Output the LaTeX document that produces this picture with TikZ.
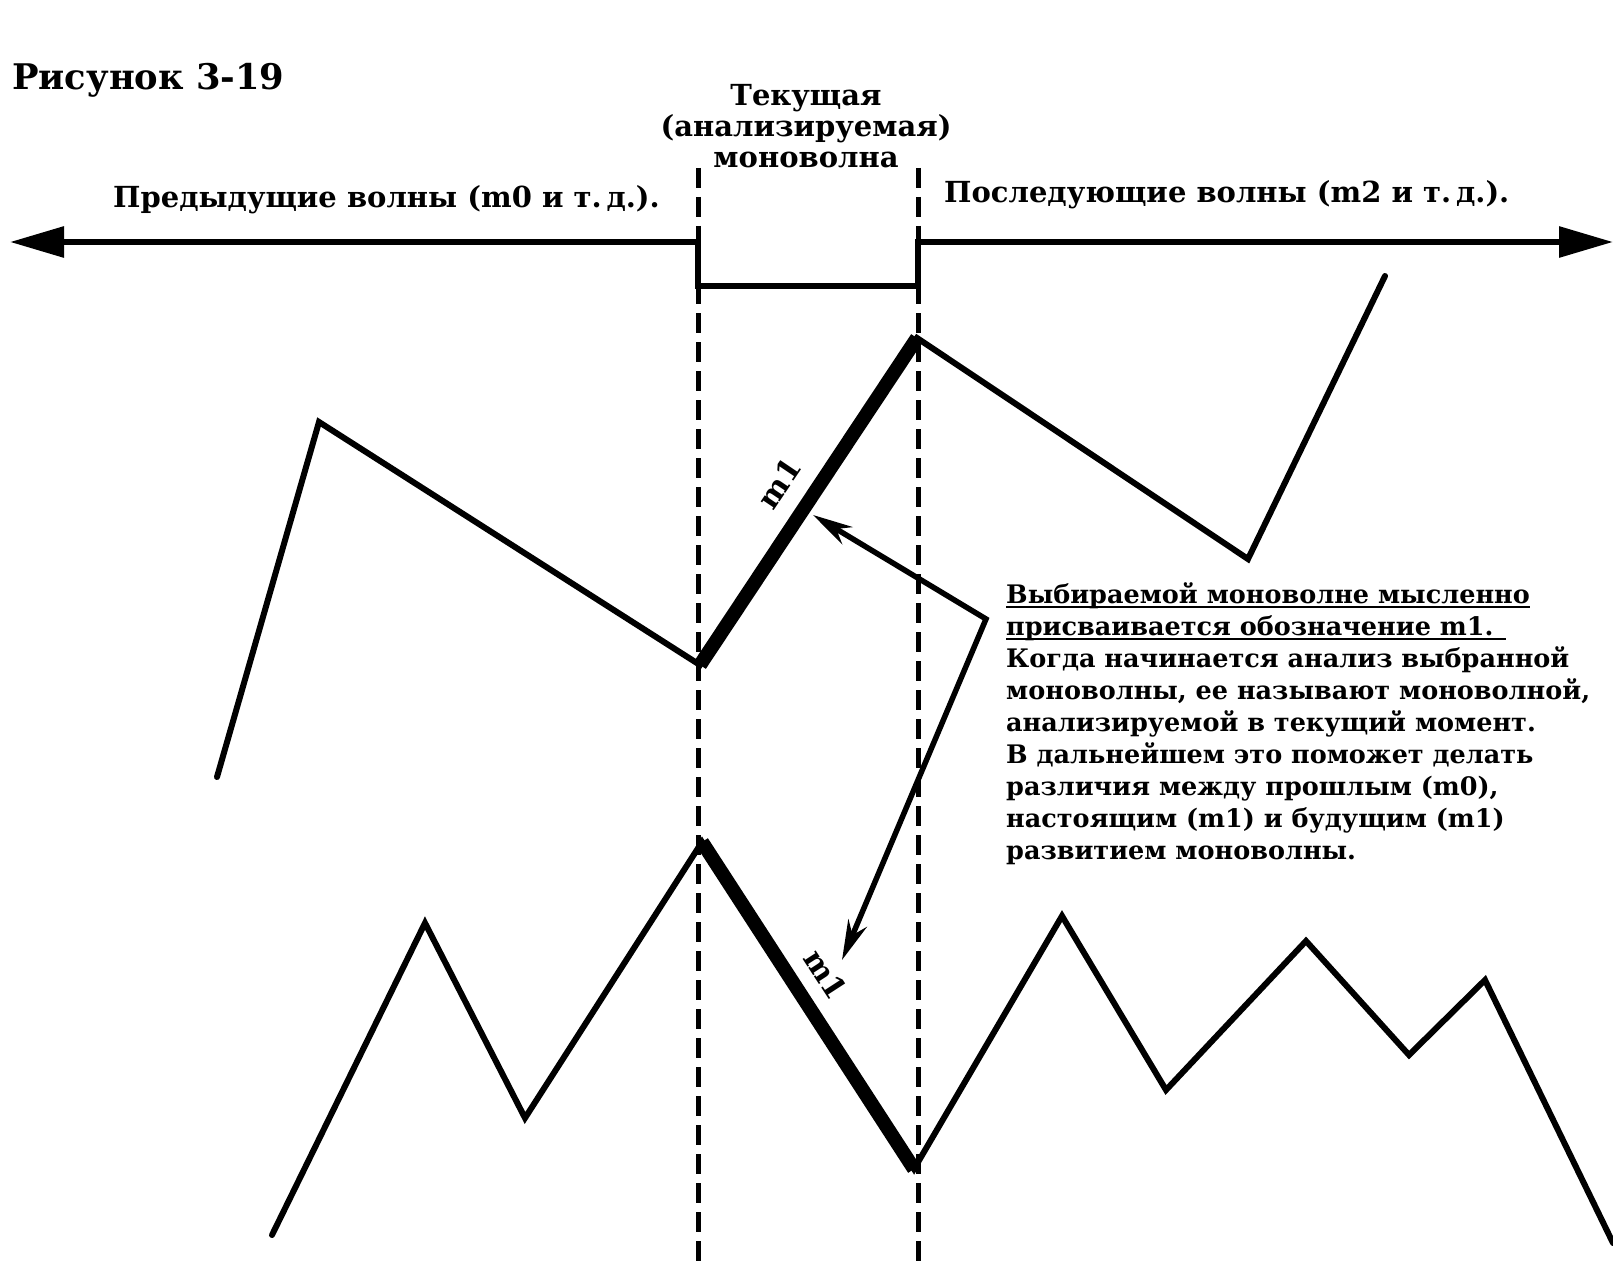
\documentclass[tikz,border=0pt]{standalone}
\usepackage{fontspec}
\setmainfont{DejaVu Serif}
\usetikzlibrary{arrows.meta}
\begin{document}
\begin{tikzpicture}[x=1pt,y=-1pt,
  wave/.style={line width=6pt, line join=miter, line cap=round},
  mono/.style={line width=14pt, line cap=butt},
  guide/.style={line width=5pt, dash pattern=on 20pt off 9pt},
  axis/.style={line width=6pt, line join=miter},
  callout/.style={line width=5.5pt, line join=miter,
    {Stealth[length=40pt,width=20pt]}-{Stealth[length=40pt,width=20pt]}},
  head/.style={font=\fontsize{29}{31}\selectfont\bfseries, inner sep=0pt, align=center},
  body/.style={font=\fontsize{25.5}{32}\selectfont\bfseries, inner sep=0pt, anchor=base west},
  lbl/.style={font=\fontsize{30}{30}\selectfont\bfseries, inner sep=0pt}]
\useasboundingbox (0,0) rectangle (1613,1265);

% guide lines
\coordinate (gLt) at (698,168); \coordinate (gLb) at (698,1265);
\coordinate (gRt) at (918,168); \coordinate (gRb) at (918,1265);
\draw[guide] (gLt) -- (gLb);
\draw[guide] (gRt) -- (gRb);

% axis with bracket
\coordinate (aL) at (10,242);
\coordinate (aR) at (1613,242);
\coordinate (b1) at (698,242); \coordinate (b2) at (698,286);
\coordinate (b3) at (918,286); \coordinate (b4) at (918,242);
\draw[axis, {Triangle[length=54pt,width=30pt]}-{Triangle[length=54pt,width=30pt]}]
  (aL) -- (b1) -- (b2) -- (b3) -- (b4) -- (aR);

% texts
\node[anchor=base west, font=\fontsize{35.3}{36}\selectfont\bfseries, inner sep=0pt] (title) at (12,90) {Рисунок 3-19};
\node[head, anchor=base west] (prev) at (113,208) {Предыдущие волны (m0 и т.\,д.).};
\node[head, anchor=base west] (next) at (944,203) {Последующие волны (m2 и т.\,д.).};
\node[head, anchor=base] (cur1) at (806,106) {Текущая};
\node[head, anchor=base] (cur2) at (806,137) {(анализируемая)};
\node[head, anchor=base] (cur3) at (806,168) {моноволна};

\node[body] (t1) at (1006,603) {Выбираемой моноволне мысленно};
\node[body] (t2) at (1006,635) {присваивается обозначение m1.};
\node[body] (t3) at (1006,667) {Когда начинается анализ выбранной};
\node[body] (t4) at (1006,699) {моноволны, ее называют моноволной,};
\node[body] (t5) at (1006,731) {анализируемой в текущий момент.};
\node[body] (t6) at (1006,763) {В дальнейшем это поможет делать};
\node[body] (t7) at (1006,795) {различия между прошлым (m0),};
\node[body] (t8) at (1006,827) {настоящим (m1) и будущим (m1)};
\node[body] (t9) at (1006,859) {развитием моноволны.};
\draw[line width=2.4pt] ([yshift=-4pt]t1.base west) -- ([yshift=-4pt]t1.base east);
\draw[line width=2.4pt] ([yshift=-4pt]t2.base west) -- ([yshift=-4pt,xshift=12pt]t2.base east);

% upper wave
\coordinate (u0) at (217,777);
\coordinate (u1) at (319,422);
\coordinate (u2) at (700,665);
\coordinate (u3) at (917,338);
\coordinate (u4) at (1248,559);
\coordinate (u5) at (1385,276);
\draw[wave] (u0) -- (u1) -- (u2) -- (u3) -- (u4) -- (u5);
\draw[mono] (u2) -- (u3);

% lower wave
\coordinate (l0) at (272,1235);
\coordinate (l1) at (425,923);
\coordinate (l2) at (525,1118);
\coordinate (l3) at (702,842);
\coordinate (l4) at (914,1169);
\coordinate (l5) at (1062,916);
\coordinate (l6) at (1166,1090);
\coordinate (l7) at (1306,941);
\coordinate (l8) at (1409,1055);
\coordinate (l9) at (1485,980);
\coordinate (l10) at (1613,1243);
\draw[wave] (l0) -- (l1) -- (l2) -- (l3) -- (l4) -- (l5) -- (l6) -- (l7) -- (l8) -- (l9) -- (l10);
\draw[mono] (l3) -- (l4);

% labels
\node[lbl, rotate=56] (m1a) at (779,483) {m1};
\node[lbl, rotate=-57] (m1b) at (826,974) {m1};

% callout arrows
\coordinate (c0) at (813,515);
\coordinate (c1) at (986,619);
\coordinate (c2) at (842,960);
\draw[callout] (c0) -- (c1) -- (c2);
\end{tikzpicture}
\end{document}
